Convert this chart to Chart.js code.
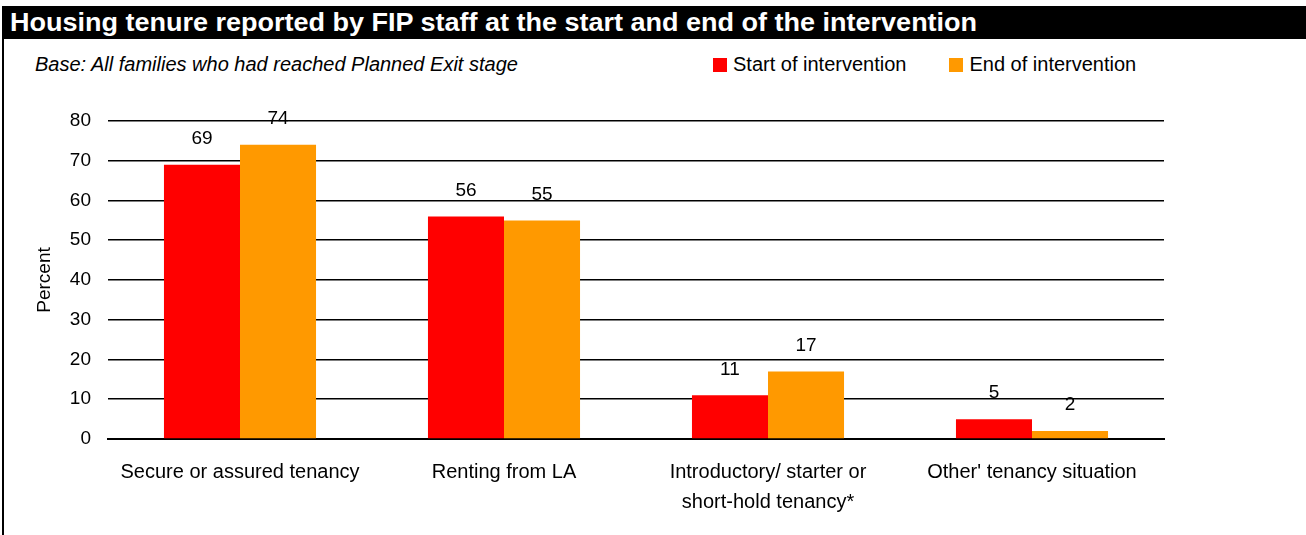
<!DOCTYPE html>
<html lang="en">
<head>
<meta charset="UTF-8">
<title>Housing tenure</title>
<script src="https://cdn.jsdelivr.net/npm/chart.js"></script>
<style>
    body { margin: 0; background: #fff; font-family: "Liberation Sans", Arial, sans-serif; }
    .page { position: relative; width: 1306px; height: 535px; overflow: hidden; }
    .title-bar {
        position: absolute; left: 2px; top: 6px; width: 1304px; height: 33px;
        background: #000; color: #fff; box-sizing: border-box;
    }
    .title-bar span {
        position: absolute; left: 8px; top: 0; line-height: 33px; font-weight: bold; font-size: 25px;
        white-space: nowrap; transform: scaleX(1.08); transform-origin: left center;
    }
    .left-rule { position: absolute; left: 2px; top: 39px; width: 2px; height: 496px; background: #000; }
    .base { position: absolute; left: 35px; top: 53px; font-size: 20px; font-style: italic; white-space: nowrap; }
    .legend { position: absolute; left: 713px; top: 53px; display: flex; font-size: 20px; white-space: nowrap; }
    .legend .item { display: flex; align-items: center; margin-right: 43px; }
    .legend .box { width: 14px; height: 14px; margin-right: 6px; }
    .chart-box { position: absolute; left: 0; top: 90px; width: 1306px; height: 445px; }
</style>
</head>
<body>
<div class="page">
    <div class="title-bar"><span>Housing tenure reported by FIP staff at the start and end of the intervention</span></div>
    <div class="left-rule"></div>
    <div class="base">Base: All families who had reached Planned Exit stage</div>
    <div class="legend" id="legend"></div>
    <div class="chart-box"><canvas id="chart"></canvas></div>
</div>
<script>
    const categories = [
        'Secure or assured tenancy',
        'Renting from LA',
        ['Introductory/ starter or', 'short-hold tenancy*'],
        "Other' tenancy situation"
    ];
    const seriesNames = ['Start of intervention', 'End of intervention'];
    const seriesColors = ['#FF0000', '#FF9900'];
    const startValues = [69, 56, 11, 5];
    const endValues = [74, 55, 17, 2];
    const yTicks = [0, 10, 20, 30, 40, 50, 60, 70, 80];

    const FONT = '"Liberation Sans", Arial, sans-serif';

    // legend built from the series arrays
    const legend = document.getElementById('legend');
    seriesNames.forEach((name, i) => {
        const item = document.createElement('div');
        item.className = 'item';
        item.innerHTML = '<span class="box" style="background:' + seriesColors[i] + '"></span>' + name;
        legend.appendChild(item);
    });

    // value labels above each bar
    const valueLabels = {
        id: 'valueLabels',
        afterDatasetsDraw(chart) {
            const ctx = chart.ctx;
            ctx.save();
            ctx.font = '19px ' + FONT;
            ctx.fillStyle = '#000';
            ctx.textAlign = 'center';
            ctx.textBaseline = 'middle';
            chart.data.datasets.forEach((ds, i) => {
                chart.getDatasetMeta(i).data.forEach((bar, j) => {
                    ctx.fillText(ds.data[j], bar.x, bar.y - 26);
                });
            });
            ctx.restore();
        }
    };

    new Chart(document.getElementById('chart'), {
        type: 'bar',
        data: {
            labels: categories,
            datasets: [
                { label: seriesNames[0], data: startValues, backgroundColor: seriesColors[0] },
                { label: seriesNames[1], data: endValues, backgroundColor: seriesColors[1] }
            ]
        },
        options: {
            responsive: true,
            maintainAspectRatio: false,
            animation: false,
            categoryPercentage: 0.576,
            barPercentage: 1.0,
            layout: { padding: { top: 31, right: 142, left: 0, bottom: 0 } },
            plugins: {
                legend: { display: false },
                tooltip: { enabled: false }
            },
            scales: {
                x: {
                    grid: { display: false, drawTicks: false },
                    border: { color: '#000', width: 2 },
                    ticks: {
                        color: '#000',
                        font: { family: FONT, size: 20, lineHeight: 1.5 },
                        padding: 18,
                        maxRotation: 0,
                        autoSkip: false
                    },
                    afterFit(scale) { scale.height = 96; }
                },
                y: {
                    min: 0,
                    max: 80,
                    afterBuildTicks(scale) { scale.ticks = yTicks.map(v => ({ value: v })); },
                    grid: { color: '#000', lineWidth: 1.6, drawTicks: false },
                    border: { display: false },
                    ticks: {
                        color: '#000',
                        font: { family: FONT, size: 19 },
                        padding: 17
                    },
                    title: {
                        display: true,
                        text: 'Percent',
                        color: '#000',
                        font: { family: FONT, size: 19 },
                        padding: { top: 33, bottom: 0 }
                    },
                    afterFit(scale) { scale.width = 108; }
                }
            }
        },
        plugins: [valueLabels]
    });
</script>
</body>
</html>
